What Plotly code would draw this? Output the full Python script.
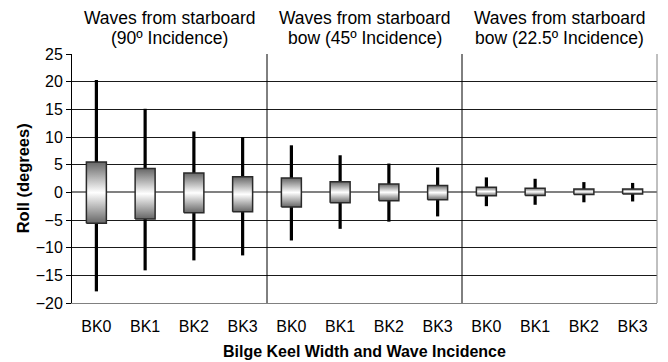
import plotly.graph_objects as go

# ---- data ----
group_line1 = ["Waves from starboard", "Waves from starboard", "Waves from starboard"]
group_line2 = ["(90º Incidence)", "bow (45º Incidence)", "bow (22.5º Incidence)"]
labels = ["BK0", "BK1", "BK2", "BK3"] * 3
roll_max = [20.3, 15.1, 11.0, 10.0, 8.5, 6.7, 5.2, 4.5, 2.7, 2.45, 1.85, 1.7]
roll_q3 = [5.5, 4.3, 3.5, 2.8, 2.6, 1.9, 1.5, 1.25, 0.9, 0.75, 0.6, 0.6]
roll_q1 = [-5.6, -4.8, -3.7, -3.5, -2.65, -1.9, -1.5, -1.35, -0.6, -0.55, -0.4, -0.3]
roll_min = [-17.9, -14.1, -12.3, -11.4, -8.7, -6.6, -5.3, -4.35, -2.5, -2.25, -1.8, -1.65]
y_ticks = list(range(-20, 30, 5))

FONT = "Arial, Liberation Sans, sans-serif"
n = len(labels)
idx = list(range(n))
n_groups = len(group_line1)
per_group = n // n_groups
half_w = 0.205

fig = go.Figure()

# whiskers
wx, wy = [], []
for i in idx:
    wx += [i, i, None]
    wy += [roll_min[i], roll_max[i], None]
fig.add_trace(go.Scatter(x=wx, y=wy, mode="lines",
                         line=dict(color="black", width=3.2),
                         hoverinfo="skip", showlegend=False))

# gradient boxes
for i in idx:
    bx = [i - half_w, i + half_w, i + half_w, i - half_w, i - half_w]
    by = [roll_q1[i], roll_q1[i], roll_q3[i], roll_q3[i], roll_q1[i]]
    fig.add_trace(go.Scatter(
        x=bx, y=by, mode="lines", fill="toself",
        line=dict(color="#2a2a2a", width=1.5),
        fillgradient=dict(type="vertical",
                          colorscale=[[0, "#666666"], [0.5, "#ffffff"], [1, "#666666"]]),
        hoverinfo="skip", showlegend=False))

shapes = []
# group separators
for g in range(1, n_groups):
    shapes.append(dict(type="line", xref="x", yref="paper",
                       x0=per_group * g - 0.5, x1=per_group * g - 0.5, y0=0, y1=1,
                       line=dict(color="black", width=1)))
# right border
shapes.append(dict(type="line", xref="paper", yref="paper", x0=1, x1=1, y0=0, y1=1,
                   line=dict(color="#808080", width=1)))

annotations = []
for g in range(n_groups):
    cx = per_group * g + (per_group - 1) / 2
    annotations.append(dict(x=cx, y=1.143, xref="x", yref="paper", text=group_line1[g],
                            showarrow=False, xanchor="center", yanchor="middle",
                            font=dict(family=FONT, size=17.5, color="black")))
    annotations.append(dict(x=cx, y=1.066, xref="x", yref="paper", text=group_line2[g],
                            showarrow=False, xanchor="center", yanchor="middle",
                            font=dict(family=FONT, size=17.5, color="black")))
annotations.append(dict(x=0.5, y=-0.193, xref="paper", yref="paper",
                        text="<b>Bilge Keel Width and Wave Incidence</b>",
                        showarrow=False, xanchor="center", yanchor="middle",
                        font=dict(family=FONT, size=16, color="black")))
annotations.append(dict(x=-0.084, y=0.5, xref="paper", yref="paper",
                        text="<b>Roll (degrees)</b>", textangle=-90,
                        showarrow=False, xanchor="center", yanchor="middle",
                        font=dict(family=FONT, size=16.5, color="black")))

fig.update_layout(
    width=668, height=362,
    margin=dict(l=72, r=11, t=54, b=59),
    plot_bgcolor="white", paper_bgcolor="white",
    font=dict(family=FONT, size=16, color="black"),
    shapes=shapes, annotations=annotations,
    xaxis=dict(range=[-0.5, n - 0.5], tickvals=idx, ticktext=labels,
               showgrid=False, zeroline=False, showline=True,
               linecolor="#808080", linewidth=1, ticks="",
               ticklabelstandoff=9,
               tickfont=dict(size=16), fixedrange=True),
    yaxis=dict(range=[-20, 25], tickvals=y_ticks, showgrid=True,
               gridcolor="#1a1a1a", gridwidth=1,
               zeroline=True, zerolinecolor="#808080", zerolinewidth=2,
               showline=True, linecolor="black", linewidth=1,
               ticks="outside", ticklen=5, tickcolor="black",
               tickfont=dict(size=16), fixedrange=True),
)

fig.write_html("out.html")
